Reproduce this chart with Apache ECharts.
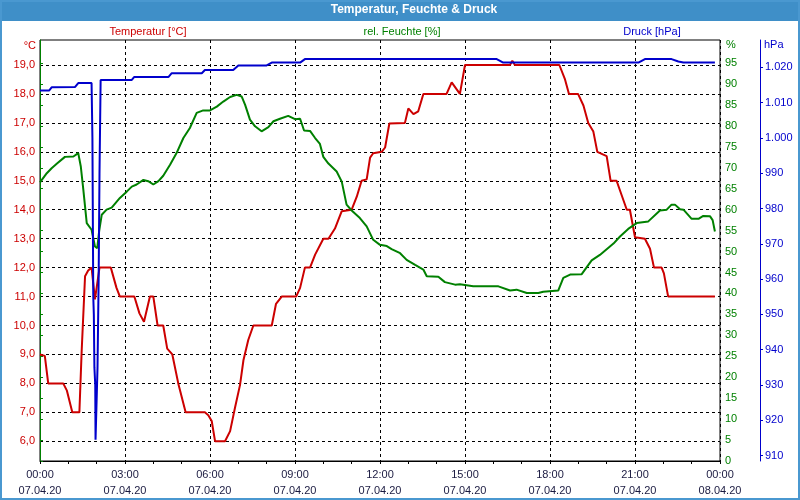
<!DOCTYPE html>
<html><head><meta charset="utf-8">
<script src="https://cdn.jsdelivr.net/npm/echarts@6/dist/echarts.min.js"></script>
<style>html,body{margin:0;padding:0;background:#fff}#c{width:800px;height:500px}</style>
</head><body><div id="c"></div><script>
// time in hours since 07.04.20 00:00
const tempTime = [0.00,0.17,0.29,0.82,0.95,1.14,1.39,1.47,1.59,1.70,1.82,1.94,2.10,2.50,2.70,2.82,3.33,3.51,3.67,3.88,4.00,4.15,4.35,4.49,4.67,4.88,5.14,5.82,5.94,6.06,6.18,6.53,6.71,6.88,7.06,7.18,7.35,7.53,8.18,8.33,8.53,9.04,9.18,9.35,9.53,9.71,10.00,10.18,10.41,10.65,11.00,11.18,11.35,11.53,11.65,11.76,12.06,12.18,12.33,12.88,13.00,13.18,13.35,13.53,14.35,14.53,14.82,15.00,16.59,16.67,16.76,18.33,18.53,18.67,18.99,19.18,19.35,19.53,19.67,20.00,20.14,20.35,20.53,20.71,20.82,21.00,21.35,21.53,21.67,21.94,22.02,22.17,23.82];
const tempVals = [9.0,8.95,8.0,8.0,7.75,7.0,7.0,9.1,11.7,11.9,12.0,10.9,12.0,12.0,11.3,11.0,11.0,10.42,10.13,11.0,11.0,10.0,10.0,9.2,9.0,8.0,7.0,7.0,6.9,6.7,6.0,6.0,6.35,7.15,7.95,8.8,9.5,10.0,10.0,10.75,11.0,11.0,11.3,12.0,12.0,12.45,13.0,13.0,13.35,13.95,14.0,14.45,15.0,15.05,15.8,15.95,16.0,16.15,16.98,17.0,17.5,17.3,17.4,18.0,18.0,18.4,18.0,19.0,19.0,19.15,19.0,19.0,18.5,18.0,18.0,17.6,17.0,16.7,16.0,15.85,15.0,15.0,14.5,14.0,14.0,13.05,13.0,12.65,12.0,12.0,11.8,11.0,11.0];

const humTime = [0.00,0.24,0.41,0.60,0.88,1.18,1.35,1.44,1.53,1.65,1.82,1.94,2.02,2.09,2.18,2.35,2.53,2.82,3.06,3.24,3.41,3.65,3.82,4.00,4.18,4.35,4.59,4.82,5.06,5.29,5.53,5.76,6.00,6.24,6.47,6.71,6.94,7.12,7.24,7.41,7.59,7.82,8.06,8.24,8.47,8.76,9.00,9.18,9.32,9.53,9.71,9.88,10.00,10.18,10.47,10.65,10.82,11.00,11.29,11.53,11.76,12.00,12.24,12.41,12.71,12.94,13.24,13.53,13.65,14.06,14.29,14.65,14.82,15.29,16.18,16.59,16.82,17.18,17.59,17.76,18.29,18.47,18.71,19.12,19.47,19.76,20.24,20.47,20.76,21.06,21.47,21.88,22.12,22.29,22.41,22.59,22.71,23.00,23.24,23.41,23.65,23.74,23.82];
const humVals = [66.5,68.7,69.9,71.0,72.6,72.7,73.5,70.3,64.7,56.8,55.2,51.2,50.8,55.0,58.8,60.0,60.5,62.8,64.3,65.5,66.0,67.1,66.8,66.0,66.8,68.1,70.7,73.5,77.1,79.5,83.1,83.7,83.7,84.6,85.8,86.9,87.4,87.0,85.0,81.5,79.9,78.7,79.7,81.1,81.7,82.4,81.6,81.7,78.9,78.8,77.1,75.7,72.6,71.0,69.1,66.7,61.2,59.8,58.0,56.0,52.8,51.6,51.3,50.6,49.6,48.0,46.8,45.7,44.1,44.0,42.7,42.1,42.2,41.7,41.7,40.7,40.9,40.1,40.1,40.4,40.7,43.7,44.5,44.6,47.9,49.2,51.9,53.6,55.4,56.8,57.2,59.8,60.0,61.2,61.2,60.1,60.0,57.8,57.8,58.5,58.4,57.5,54.8];

const presTime = [0.00,0.32,0.41,1.24,1.35,1.82,1.85,1.88,1.90,1.92,1.95,1.96,2.00,2.03,2.07,2.10,2.14,3.24,3.32,4.53,4.65,5.71,5.82,6.82,7.00,8.00,8.18,9.18,9.35,16.12,16.35,21.12,21.35,22.29,22.53,22.71,23.82];
const presVals = [1013.4,1013.4,1014.3,1014.4,1015.5,1015.5,1000,955,950,935,930,914.5,914.5,935,960,990,1016.4,1016.4,1017.2,1017.2,1018.3,1018.3,1019.2,1019.2,1020.5,1020.5,1021.3,1021.3,1022.3,1022.3,1021.3,1021.3,1022.3,1022.3,1021.6,1021.3,1021.3];

const timeTickLabels = ['00:00','03:00','06:00','09:00','12:00','15:00','18:00','21:00','00:00'];
const dateTickLabels = ['07.04.20','07.04.20','07.04.20','07.04.20','07.04.20','07.04.20','07.04.20','07.04.20','08.04.20'];
const humTicks = [0,5,10,15,20,25,30,35,40,45,50,55,60,65,70,75,80,85,90,95];
const presTicks = [910,920,930,940,950,960,970,980,990,1000,1010,1020];

const zip = (a, b) => a.map((t, i) => [t, b[i]]);
const FONT = 'Liberation Sans, Arial, sans-serif';
const RED = '#cc0000', GREEN = '#008000', BLUE = '#0000cc';
const dash = { color: '#000', width: 1, type: [3, 3] };

const chart = echarts.init(document.getElementById('c'), null, { renderer: 'canvas' });
chart.setOption({
  backgroundColor: '#ffffff',
  animation: false,
  textStyle: { fontFamily: FONT },
  graphic: [
    { type: 'rect', z: -1, shape: { x: 0, y: 0, width: 800, height: 21 }, style: { fill: '#3f8fc8' } },
    { type: 'rect', z: 100, shape: { x: 1, y: 1, width: 798, height: 498 }, style: { fill: null, stroke: '#4a98d0', lineWidth: 2 } },
    { type: 'text', x: 414, y: 10, style: { text: 'Temperatur, Feuchte & Druck', fill: '#fff', font: 'bold 12px ' + FONT, textAlign: 'center', textVerticalAlign: 'middle' } },
    { type: 'text', x: 148, y: 32, style: { text: 'Temperatur [°C]', fill: RED, font: '11px ' + FONT, textAlign: 'center', textVerticalAlign: 'middle' } },
    { type: 'text', x: 402, y: 32, style: { text: 'rel. Feuchte [%]', fill: GREEN, font: '11px ' + FONT, textAlign: 'center', textVerticalAlign: 'middle' } },
    { type: 'text', x: 652, y: 32, style: { text: 'Druck [hPa]', fill: BLUE, font: '11px ' + FONT, textAlign: 'center', textVerticalAlign: 'middle' } },
    { type: 'text', x: 36, y: 46, style: { text: '°C', fill: RED, font: '11px ' + FONT, textAlign: 'right', textVerticalAlign: 'middle' } },
    { type: 'text', x: 726, y: 45, style: { text: '%', fill: GREEN, font: '11px ' + FONT, textAlign: 'left', textVerticalAlign: 'middle' } },
    { type: 'text', x: 764, y: 45, style: { text: 'hPa', fill: BLUE, font: '11px ' + FONT, textAlign: 'left', textVerticalAlign: 'middle' } }
  ],
  grid: [
    { left: 40, right: 80, top: 40, bottom: 39, show: true, borderColor: '#000', borderWidth: 1, backgroundColor: '#fff' },
    { left: 40, right: 80, top: 65, bottom: 58.7 }
  ],
  xAxis: [
    { type: 'value', gridIndex: 0, min: 0, max: 24, interval: 3,
      axisLine: { show: true, lineStyle: { color: '#000' } },
      axisTick: { show: true, length: 3, lineStyle: { color: '#000' } },
      minorTick: { show: true, splitNumber: 3, length: 3, lineStyle: { color: '#000' } },
      splitLine: { show: true, lineStyle: dash },
      axisLabel: { margin: 6, color: '#1a1a40', fontSize: 11, fontFamily: FONT, lineHeight: 16,
        formatter: v => { const i = Math.round(v / 3); return timeTickLabels[i] + '\n' + dateTickLabels[i]; } } },
    { type: 'value', gridIndex: 1, min: 0, max: 24, show: false }
  ],
  yAxis: [
    { type: 'value', gridIndex: 1, min: 6, max: 19, interval: 1, position: 'left',
      axisLine: { show: false }, axisTick: { show: false },
      splitLine: { show: true, lineStyle: dash },
      axisLabel: { margin: 5, color: RED, fontSize: 11, fontFamily: FONT, formatter: v => v.toFixed(1).replace('.', ',') } },
    { type: 'value', gridIndex: 0, min: 0, max: 100.5, position: 'right',
      axisLine: { show: true, lineStyle: { color: GREEN } },
      axisTick: { show: true, length: 3, customValues: humTicks, lineStyle: { color: GREEN } },
      splitLine: { show: false },
      axisLabel: { margin: 5, color: GREEN, fontSize: 11, fontFamily: FONT, customValues: humTicks } },
    { type: 'value', gridIndex: 0, min: 908.5, max: 1027.7, position: 'right', offset: 40,
      axisLine: { show: true, lineStyle: { color: BLUE } },
      axisTick: { show: true, length: 3, customValues: presTicks, lineStyle: { color: BLUE } },
      splitLine: { show: false },
      axisLabel: { margin: 5, color: BLUE, fontSize: 11, fontFamily: FONT, customValues: presTicks,
        formatter: v => v >= 1000 ? '1.' + String(Math.round(v - 1000)).padStart(3, '0') : String(Math.round(v)) } }
  ],
  series: [
    { name: 'Temperatur [°C]', type: 'line', xAxisIndex: 1, yAxisIndex: 0, data: zip(tempTime, tempVals),
      showSymbol: false, clip: false, lineStyle: { color: RED, width: 2 }, z: 3 },
    { name: 'rel. Feuchte [%]', type: 'line', xAxisIndex: 0, yAxisIndex: 1, data: zip(humTime, humVals),
      showSymbol: false, lineStyle: { color: GREEN, width: 2 }, z: 4 },
    { name: 'Druck [hPa]', type: 'line', xAxisIndex: 0, yAxisIndex: 2, data: zip(presTime, presVals),
      showSymbol: false, lineStyle: { color: BLUE, width: 2 }, z: 5 }
  ]
});
</script></body></html>
